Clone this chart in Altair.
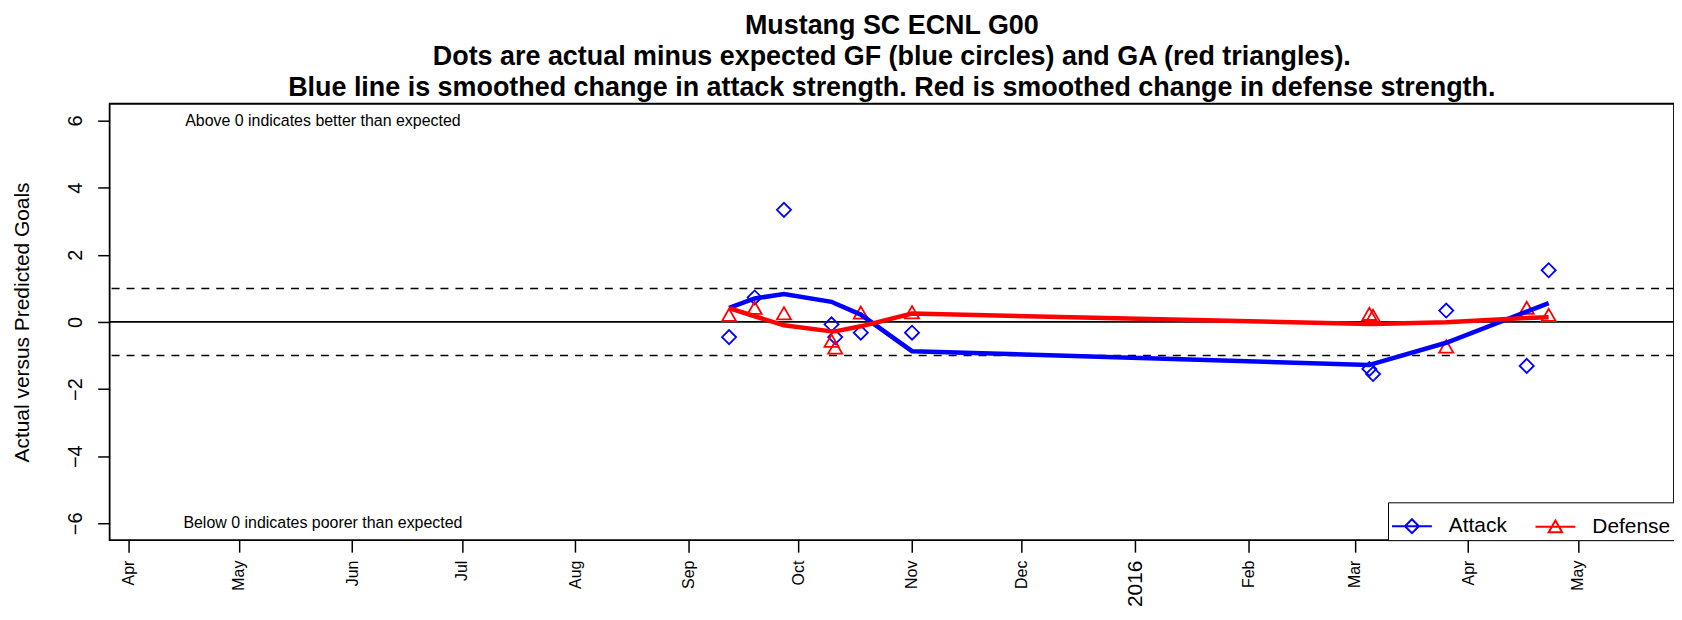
import altair as alt
import pandas as pd

# ---------------- data ----------------
dates = ["2015-09-12", "2015-09-19", "2015-09-27", "2015-10-10", "2015-10-11", "2015-10-18",
         "2015-11-01", "2016-03-05", "2016-03-06", "2016-03-26", "2016-04-17", "2016-04-23"]
attack_pts = [-0.45, 0.73, 3.34, -0.07, -0.45, -0.32, -0.32, -1.40, -1.55, 0.34, -1.31, 1.54]
defense_pts = [0.21, 0.42, 0.26, -0.56, -0.76, 0.28, 0.29, 0.24, 0.18, -0.73, 0.42, 0.21]
attack_smooth = [0.42, 0.70, 0.83, 0.60, 0.55, 0.22, -0.87, -1.28, -1.25, -0.62, 0.31, 0.56]
defense_smooth = [0.41, 0.17, -0.10, -0.28, -0.28, -0.13, 0.25, -0.06, -0.06, -0.01, 0.12, 0.14]

series = ["Attack", "Defense"]
colors = ["#0000FF", "#FF0000"]
point_shapes = ["diamond", "triangle-up"]
legend_shapes = ["M-1,0L1,0M0,-0.35L0.35,0L0,0.35L-0.35,0Z",
                 "M-1,0L1,0M0,-0.31L0.34,0.28L-0.34,0.28Z"]

ref_levels = [-1, 1]
zero_level = [0]
y_ticks = [-6, -4, -2, 0, 2, 4, 6]
month_ticks = [(2015, m) for m in range(4, 13)] + [(2016, m) for m in range(1, 6)]

note_dates = ["2015-05-24", "2015-05-24"]
note_y = [6, -6]
note_text = ["Above 0 indicates better than expected", "Below 0 indicates poorer than expected"]

title_lines = ["Mustang SC ECNL G00",
               "Dots are actual minus expected GF (blue circles) and GA (red triangles).",
               "Blue line is smoothed change in attack strength. Red is smoothed change in defense strength."]

# ---------------- tables ----------------
pts_df = pd.DataFrame({
    "date": dates * 2,
    "value": attack_pts + defense_pts,
    "series": ["Attack"] * len(dates) + ["Defense"] * len(dates),
})
smooth_df = pd.DataFrame({
    "date": dates * 2,
    "value": attack_smooth + defense_smooth,
    "series": ["Attack"] * len(dates) + ["Defense"] * len(dates),
})
ref_df = pd.DataFrame({"value": ref_levels})
zero_df = pd.DataFrame({"value": zero_level})
note_df = pd.DataFrame({"date": note_dates, "value": note_y, "text": note_text})

FONT = "Liberation Sans"

x_scale = alt.Scale(type="utc", nice=False,
                    domain=[alt.DateTime(year=2015, month=3, date=26, hours=17, utc=True),
                            alt.DateTime(year=2016, month=5, date=27, hours=6, utc=True)])
x_axis = alt.Axis(
    title=None,
    values=[alt.DateTime(year=y, month=m, date=1, utc=True) for (y, m) in month_ticks],
    labelExpr="utcmonth(datum.value) == 0 ? utcFormat(datum.value, '%Y') : utcFormat(datum.value, '%b')",
    labelAngle=-90, labelAlign="right", labelBaseline="middle",
    labelFontSize={"condition": {"test": "utcmonth(datum.value) == 0", "value": 21}, "value": 16},
    labelPadding=8, tickSize=12, tickWidth=1.5, tickColor="black",
    labelColor="black", labelFont=FONT, domain=False, grid=False, labelOverlap=False,
)
y_scale = alt.Scale(domain=[-6.5, 6.5], nice=False, zero=False)
y_axis = alt.Axis(
    title="Actual versus Predicted Goals", values=y_ticks,
    labelAngle=-90, labelAlign="center", labelBaseline="bottom",
    labelFontSize=20, labelPadding=12, tickSize=12, tickWidth=1.5, tickColor="black",
    labelColor="black", labelFont=FONT, domain=False, grid=False,
    titleFontSize=21, titleFont=FONT, titleFontWeight="normal", titleColor="black",
    titleAngle=270, titleAlign="center", titleBaseline="middle", titleX=-87, titleY=219,
)

x_enc = alt.X("date:T", scale=x_scale, axis=x_axis)
y_enc = alt.Y("value:Q", scale=y_scale, axis=y_axis)

leg = alt.Legend(
    title=None, orient="bottom-right", direction="horizontal", columns=2, offset=0,
    padding=3, strokeColor="black", fillColor="white",
    labelFontSize=21, labelFont=FONT, labelColor="black", labelOffset=16,
    columnPadding=24, symbolSize=1600, symbolStrokeWidth=2,
)

zero_rule = alt.Chart(zero_df).mark_rule(color="black", strokeWidth=1.8).encode(y=y_enc)
ref_rules = alt.Chart(ref_df).mark_rule(color="black", strokeWidth=1.5, strokeDash=[8, 7]).encode(y=y_enc)

points = alt.Chart(pts_df).mark_point(filled=False, size=200, strokeWidth=1.8, opacity=1).encode(
    x=x_enc, y=y_enc,
    color=alt.Color("series:N", scale=alt.Scale(domain=series, range=colors), legend=None),
    shape=alt.Shape("series:N", scale=alt.Scale(domain=series, range=point_shapes), legend=None),
)

lines = alt.Chart(smooth_df).mark_line(strokeWidth=4.5).encode(
    x=x_enc, y=y_enc,
    color=alt.Color("series:N", scale=alt.Scale(domain=series, range=colors), legend=None),
    detail="series:N",
)

notes = alt.Chart(note_df).mark_text(fontSize=16, font=FONT, color="black", align="center", baseline="middle").encode(
    x=x_enc, y=y_enc, text="text:N",
)

legend_layer = alt.Chart(pts_df).transform_filter("false").mark_point(
    filled=False, size=1600, strokeWidth=2, opacity=1
).encode(
    x=x_enc, y=y_enc,
    color=alt.Color("series:N", scale=alt.Scale(domain=series, range=colors), legend=leg),
    shape=alt.Shape("series:N", scale=alt.Scale(domain=series, range=legend_shapes), legend=leg),
)

chart = alt.layer(zero_rule, ref_rules, notes, points, lines, legend_layer).resolve_scale(
    color="independent", shape="independent"
).properties(
    width=1570, height=438,
    autosize=alt.AutoSizeParams(type="none"),
    padding={"left": 102, "top": 95, "right": 0, "bottom": 71},
    title=alt.TitleParams(text=title_lines, fontSize=27, fontWeight="bold", font=FONT, color="black",
                          anchor="middle", frame="group", lineHeight=31, baseline="bottom",
                          offset=6, dy=31),
).configure_view(stroke="black", strokeWidth=1.8)

chart.save("out.html", embed_options={"renderer": "svg", "actions": False})
